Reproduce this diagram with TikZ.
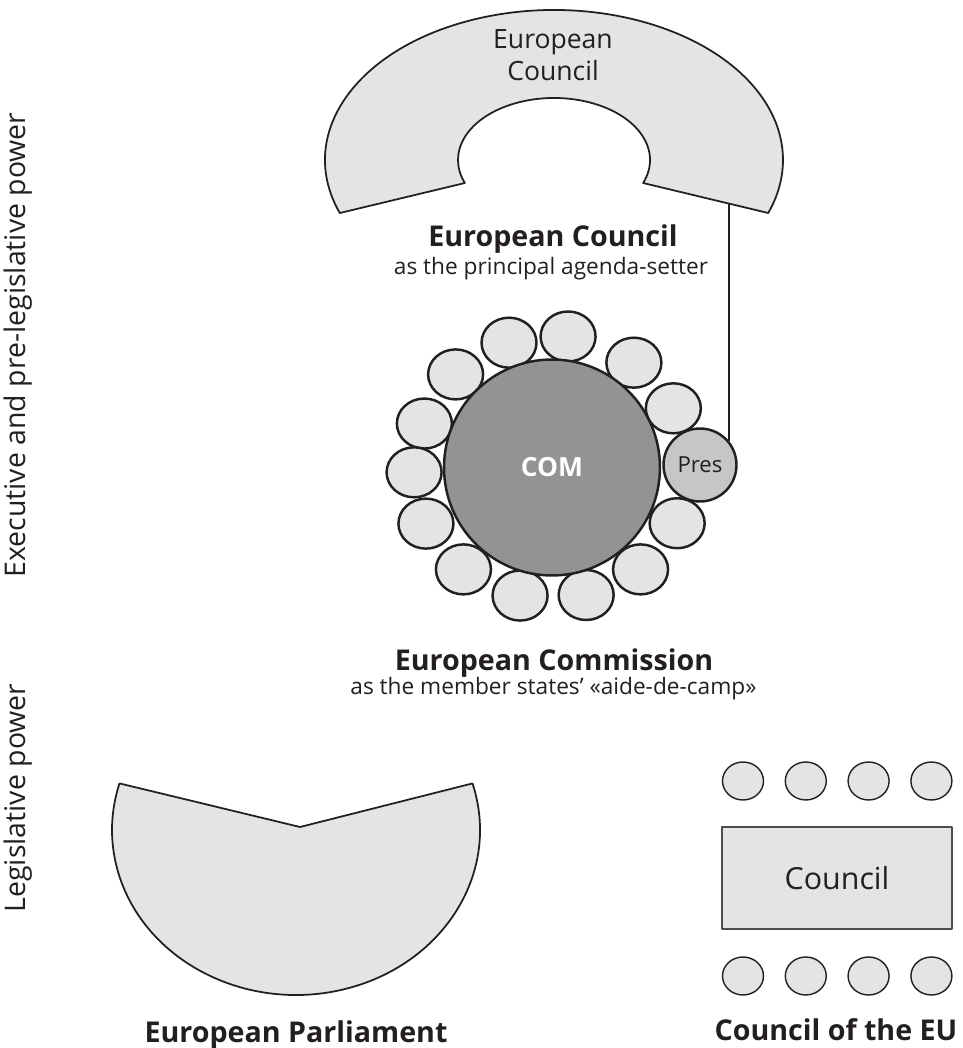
\documentclass[tikz,border=0pt]{standalone}
\usepackage{fontspec}
\setmainfont{Open Sans}
\usetikzlibrary{shapes.geometric, positioning, calc}
\definecolor{seatfill}{HTML}{E3E4E5}
\definecolor{comfill}{HTML}{939393}
\definecolor{presfill}{HTML}{C6C6C6}
\definecolor{ink}{HTML}{231F20}

\begin{document}
\begin{tikzpicture}[x=0.02cm,y=0.02cm,line join=round,
  hall/.style={fill=seatfill,draw=ink,line width=1pt},
  seat/.style={ellipse,fill=seatfill,draw=ink,line width=1.4pt,minimum width=1.1cm,minimum height=1cm,inner sep=0pt},
  council seat/.style={ellipse,fill=seatfill,draw=ink,line width=0.8pt,minimum width=0.82cm,minimum height=0.76cm,inner sep=0pt},
  big title/.style={text=ink,font=\bfseries\fontsize{16.3}{19}\selectfont,anchor=base},
  sub title/.style={text=ink,font=\fontsize{12.9}{15}\selectfont,anchor=base},
  side label/.style={text=ink,font=\fontsize{16.2}{19}\selectfont,rotate=90,anchor=base}]
  \useasboundingbox (0,0) rectangle (963,1048);

  % European Council
  \coordinate (ec) at (554,888);
  \draw[hall] ($(ec)+(200.7:229 and 150)$) arc[start angle=200.7,end angle=-20.7,x radius=229,y radius=150]
    -- ($(ec)+(-21.8:96 and 62)$) arc[start angle=-21.8,end angle=201.8,x radius=96,y radius=62] -- cycle;
  \node[text=ink,font=\fontsize{15.1}{18.2}\selectfont,align=center] (ecname) at (553,993) {European\\Council};
  \coordinate (ecfoot) at (728,844.6);
  \node[big title] (ectitle) at (553,801) {European Council};
  \node[sub title] (ecsub) at (551,773) {as the principal agenda-setter};

  % European Commission
  \coordinate (comc) at (552,580.5);
  \foreach \a/\r [count=\i] in {26/135,52/133,83/132,109/132,136/134,161/135,182/138,
                                204/138,229/135,256/132,285/132,311/135,336/137}
    \node[seat] (seat\i) at ($(comc)+(\a:\r)$) {};
  \node[circle,fill=comfill,draw=ink,line width=1.4pt,minimum size=4.32cm,inner sep=0pt,
        text=white,font=\bfseries\fontsize{15}{18}\selectfont] (com) at (comc) {COM};
  \node[circle,fill=presfill,draw=ink,line width=1.4pt,minimum size=1.46cm,inner sep=0pt,
        text=ink,font=\fontsize{12.6}{15}\selectfont] (pres) at (700,583) {Pres};
  \draw[ink,line width=1pt] (pres.40) -- (pres.40 |- ecfoot);
  \node[big title] (comtitle) at (554,377) {European Commission};
  \node[sub title] (comsub) at (553.5,353) {as the member states’ «aide-de-camp»};

  % European Parliament
  \coordinate (epv) at (300,221);
  \draw[hall] (epv) -- ($(296,218)+(16.4:184 and 165)$)
    arc[start angle=16.4,end angle=-196.4,x radius=184,y radius=165] -- cycle;
  \node[big title] (eptitle) at (296,6) {European Parliament};

  % Council of the EU
  \node[rectangle,fill=seatfill,draw=ink!80,line width=1.2pt,minimum width=4.6cm,minimum height=2.04cm,
        text=ink,font=\fontsize{17.3}{20}\selectfont] (table) at (837,170) {Council};
  \foreach \i in {0,...,3} {
    \node[council seat] (top\i) at (743+62.8*\i,267) {};
    \node[council seat] (bot\i) at (743+62.8*\i,72) {};
  }
  \node[big title] (cutitle) at (836,8) {Council of the EU};

  % side labels
  \node[side label] (exlabel) at (25,703) {Executive and pre-legislative power};
  \node[side label] (leglabel) at (25,250) {Legislative power};
\end{tikzpicture}
\end{document}
